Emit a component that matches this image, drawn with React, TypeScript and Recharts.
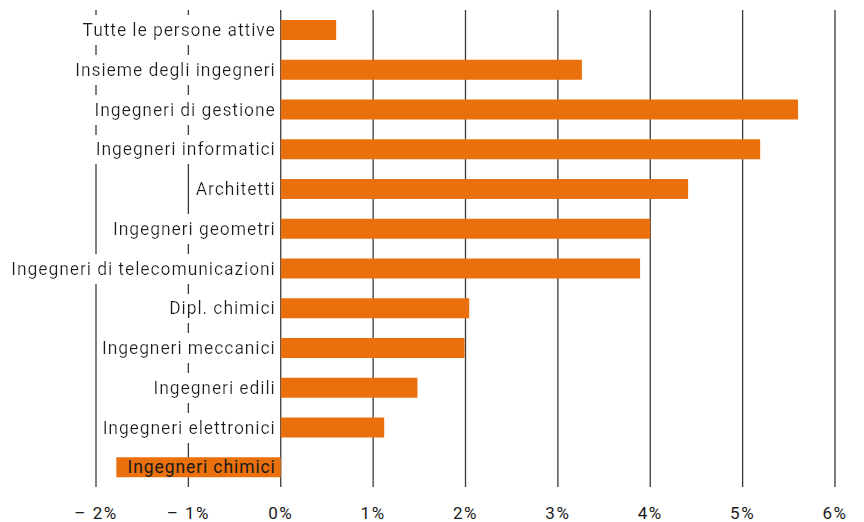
import { Bar, BarChart, CartesianGrid, XAxis, YAxis } from 'recharts'

const categories = [
  'Tutte le persone attive',
  'Insieme degli ingegneri',
  'Ingegneri di gestione',
  'Ingegneri informatici',
  'Architetti',
  'Ingegneri geometri',
  'Ingegneri di telecomunicazioni',
  'Dipl. chimici',
  'Ingegneri meccanici',
  'Ingegneri edili',
  'Ingegneri elettronici',
  'Ingegneri chimici',
]

const values = [0.6, 3.26, 5.6, 5.19, 4.41, 4.0, 3.89, 2.04, 1.99, 1.48, 1.12, -1.78]

const xTicks = [-2, -1, 0, 1, 2, 3, 4, 5, 6]

const data = categories.map((name, i) => ({ name, value: values[i] }))

const W = 864
const H = 522
const LEFT = 96
const RIGHT = 29
const X_MIN = -2
const X_MAX = 6
const FONT = 'Roboto, "DejaVu Sans", sans-serif'

// y-axis labels sit just left of the 0% line, on a white box
const zeroX = LEFT + ((0 - X_MIN) / (X_MAX - X_MIN)) * (W - LEFT - RIGHT)

function CategoryTick({ y, payload, index }: any) {
  const negative = values[index] < 0
  return (
    <text
      x={zeroX - 5}
      y={y}
      dy="0.36em"
      textAnchor="end"
      fill="#1a1a1a"
      fontSize={17.5}
      letterSpacing={0.9}
      fontFamily={FONT}
      filter={negative ? undefined : 'url(#labelBg)'}
    >
      {payload.value}
    </text>
  )
}

function XTick({ x, y, payload }: any) {
  return (
    <text
      x={x}
      y={y + 30}
      textAnchor="middle"
      fill="#1a1a1a"
      fontSize={17}
      letterSpacing={1.5}
      fontFamily={FONT}
    >
      {pct(payload.value)}
    </text>
  )
}

function pct(v: number) {
  return v < 0 ? `– ${Math.abs(v)}%` : `${v}%`
}

export default function App() {
  return (
    <div style={{ position: 'absolute', left: 0, top: 0, background: '#fff' }}>
      <BarChart
        width={W}
        height={H}
        data={data}
        layout="vertical"
        margin={{ top: 10, right: RIGHT, left: 0, bottom: 0 }}
        barSize={20}
      >
        <defs>
          <filter id="labelBg" x="-0.01" y="-0.22" width="1.02" height="1.44">
            <feFlood floodColor="#ffffff" />
            <feMerge>
              <feMergeNode />
              <feMergeNode in="SourceGraphic" />
            </feMerge>
          </filter>
        </defs>
        <CartesianGrid horizontal={false} vertical stroke="#3a3a3a" strokeWidth={1.3} />
        <XAxis
          type="number"
          domain={[X_MIN, X_MAX]}
          ticks={xTicks}
          axisLine={false}
          tickLine={false}
          tickSize={0}
          height={35}
          interval={0}
          tick={<XTick />}
        />
        <Bar dataKey="value" fill="#E9700D" isAnimationActive={false} />
        <YAxis
          type="category"
          dataKey="name"
          width={LEFT}
          axisLine={false}
          tickLine={false}
          interval={0}
          tick={<CategoryTick />}
        />
      </BarChart>
    </div>
  )
}
